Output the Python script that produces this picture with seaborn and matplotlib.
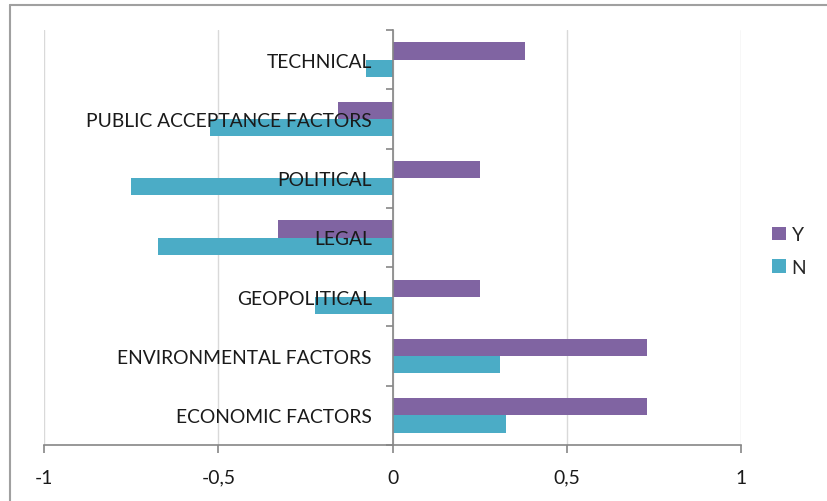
import matplotlib
matplotlib.use("Agg")
import matplotlib.pyplot as plt
from matplotlib.patches import Patch
from matplotlib.lines import Line2D
from matplotlib.ticker import FixedLocator
import seaborn as sns
import pandas as pd

# Survey factor scores (top to bottom as displayed)
categories = [
    "TECHNICAL",
    "PUBLIC ACCEPTANCE FACTORS",
    "POLITICAL",
    "LEGAL",
    "GEOPOLITICAL",
    "ENVIRONMENTAL FACTORS",
    "ECONOMIC FACTORS",
]
y_values = [0.381, -0.157, 0.251, -0.33, 0.251, 0.731, 0.731]
n_values = [-0.077, -0.523, -0.75, -0.674, -0.222, 0.307, 0.324]
series = ["Y", "N"]
x_ticks = [-1, -0.5, 0, 0.5, 1]
x_tick_labels = ["-1", "-0,5", "0", "0,5", "1"]

colors = {"Y": "#8064A2", "N": "#4BACC6"}

df = pd.DataFrame({
    "factor": categories * 2,
    "score": y_values + n_values,
    "answer": ["Y"] * len(categories) + ["N"] * len(categories),
})

sns.set_theme(style="white")
plt.rcParams["font.family"] = ["Lato", "DejaVu Sans"]

fig = plt.figure(figsize=(8.28, 5.02), dpi=100)
ax = fig.add_axes([44.3 / 828, 56 / 502, (741 - 44.3) / 828, (446 - 31) / 502])

sns.barplot(
    data=df, x="score", y="factor", hue="answer", order=categories,
    hue_order=series, palette=colors, orient="h", width=0.58,
    saturation=1, ax=ax, legend=False, linewidth=0,
)

ax.set_xlim(-1, 1)
ax.set_ylim(len(categories) - 0.5, -0.5)
ax.set_xlabel("")
ax.set_ylabel("")

# Vertical gridlines behind the bars
ax.set_xticks(x_ticks)
ax.set_xticklabels(x_tick_labels)
ax.xaxis.grid(True, color="#D9D9D9", linewidth=1)
ax.yaxis.grid(False)
ax.set_axisbelow(True)
# Category labels are written over the bars
ax.yaxis.set_zorder(5)

# Category axis sits at x = 0
for s in ("top", "right"):
    ax.spines[s].set_visible(False)
ax.spines["left"].set_position(("data", 0))
ax.spines["left"].set_color("#868686")
ax.spines["left"].set_linewidth(1.2)
ax.spines["left"].set_zorder(4)
ax.spines["bottom"].set_color("#868686")
ax.spines["bottom"].set_linewidth(1.2)

ax.yaxis.set_minor_locator(FixedLocator([i - 0.5 for i in range(len(categories) + 1)]))
ax.tick_params(axis="y", which="major", length=0, pad=15, labelsize=13.9, labelcolor="#1A1A1A")
ax.tick_params(axis="y", which="minor", left=True, length=5, width=1.2, color="#868686")
ax.tick_params(axis="x", which="major", bottom=True, length=6, width=1.2, color="#868686",
               pad=11, labelsize=13.9, labelcolor="#1A1A1A")

# Legend on the right
handles = [Patch(facecolor=colors[s], edgecolor="none") for s in series]
fig.legend(handles, series, loc="center left", bbox_to_anchor=(755 / 828, 1 - 252 / 502),
           frameon=False, fontsize=13.9, handlelength=0.7, handleheight=0.7,
           handletextpad=0.3, labelspacing=0.8)

# Chart area border (top and left edges)
fig.add_artist(Line2D([10 / 828, 1], [1 - 6 / 502] * 2, transform=fig.transFigure,
                      color="#A0A0A0", linewidth=1.5))
fig.add_artist(Line2D([10 / 828] * 2, [0, 1 - 6 / 502], transform=fig.transFigure,
                      color="#A0A0A0", linewidth=1.5))

fig.savefig("out.png", dpi=100)
